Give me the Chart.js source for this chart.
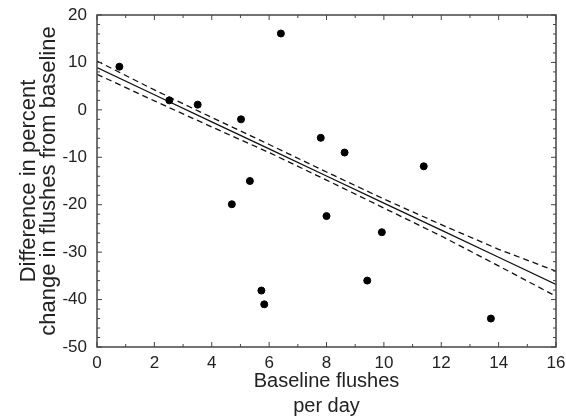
<!DOCTYPE html>
<html lang="en">
<head>
    <meta charset="UTF-8">
    <title>Baseline flushes</title>
    <script src="https://cdn.jsdelivr.net/npm/chart.js"></script>
    <style>
        html, body { margin: 0; padding: 0; background: #fff; }
        .caixa { width: 566px; height: 418px; }
    </style>
</head>
<body>
<div class="caixa">
    <canvas id="grafico"></canvas>
</div>
<script>
// pontos
const baseline = [0.78, 2.52, 3.51, 5.02, 6.41, 7.80, 5.33, 8.63, 11.39, 4.70, 8.00, 5.73, 5.83, 9.93, 9.42, 13.73];
const diferenca = [9.1, 2.0, 1.1, -2.0, 16.1, -5.9, -15.0, -9.0, -11.9, -19.9, -22.4, -38.1, -41.0, -25.8, -36.0, -44.0];

// reta de regressao e intervalo de confianca
const linhaX = [0, 2, 4, 6, 8, 10, 12, 14, 16];
const linhaMedia = [8.9, 3.19, -2.52, -8.24, -13.95, -19.66, -25.37, -31.08, -36.8];
const linhaSup = [10.3, 4.2, -1.6, -7.3, -13.1, -18.8, -24.2, -29.4, -34.0];
const linhaInf = [7.5, 1.9, -3.6, -9.0, -14.8, -20.7, -26.6, -32.9, -39.3];

const pontos = baseline.map((x, i) => ({ x: x, y: diferenca[i] }));
const media = linhaX.map((x, i) => ({ x: x, y: linhaMedia[i] }));
const sup = linhaX.map((x, i) => ({ x: x, y: linhaSup[i] }));
const inf = linhaX.map((x, i) => ({ x: x, y: linhaInf[i] }));

const fonte = 'Liberation Sans, Arial, Helvetica, sans-serif';
const cor = '#222';

// moldura e ticks para dentro, nos quatro lados
const moldura = {
    id: 'moldura',
    afterDraw(chart) {
        const ctx = chart.ctx;
        const a = chart.chartArea;
        const sx = chart.scales.x, sy = chart.scales.y;
        ctx.save();
        ctx.strokeStyle = '#444';
        ctx.lineWidth = 1.5;
        ctx.strokeRect(a.left, a.top, a.right - a.left, a.bottom - a.top);
        ctx.lineWidth = 1;
        for (let v = 0; v <= 16; v += 1) {
            const px = sx.getPixelForValue(v);
            const len = v % 2 === 0 ? 5 : 3;
            ctx.beginPath();
            ctx.moveTo(px, a.bottom); ctx.lineTo(px, a.bottom - len);
            ctx.moveTo(px, a.top); ctx.lineTo(px, a.top + len);
            ctx.stroke();
        }
        for (let v = -50; v <= 20; v += 2) {
            const py = sy.getPixelForValue(v);
            const len = v % 10 === 0 ? 5 : 3;
            ctx.beginPath();
            ctx.moveTo(a.left, py); ctx.lineTo(a.left + len, py);
            ctx.moveTo(a.right, py); ctx.lineTo(a.right - len, py);
            ctx.stroke();
        }
        ctx.restore();
    }
};

const config = {
    type: 'scatter',
    data: {
        datasets: [
            {
                label: 'Pacientes',
                data: pontos,
                backgroundColor: '#000',
                borderColor: '#000',
                pointRadius: 3.5
            },
            {
                label: 'Regressao',
                type: 'line',
                data: media,
                borderColor: '#111',
                borderWidth: 1.3,
                pointRadius: 0,
                fill: false
            },
            {
                label: 'IC superior',
                type: 'line',
                data: sup,
                borderColor: '#111',
                borderWidth: 1.3,
                borderDash: [6, 4],
                pointRadius: 0,
                fill: false
            },
            {
                label: 'IC inferior',
                type: 'line',
                data: inf,
                borderColor: '#111',
                borderWidth: 1.3,
                borderDash: [6, 4],
                pointRadius: 0,
                fill: false
            }
        ]
    },
    options: {
        responsive: true,
        maintainAspectRatio: false,
        animation: false,
        layout: { padding: { top: 15, right: 10, left: 0, bottom: 0 } },
        plugins: {
            legend: { display: false },
            tooltip: { enabled: false }
        },
        scales: {
            x: {
                type: 'linear',
                min: 0,
                max: 16,
                afterFit: function (scale) {
                    scale.height = 71;
                    scale.paddingLeft = 0;
                    scale.paddingRight = 0;
                },
                grid: { display: false, drawTicks: false },
                border: { display: false },
                ticks: {
                    stepSize: 2,
                    padding: 6,
                    color: cor,
                    font: { family: fonte, size: 17 }
                },
                title: {
                    display: true,
                    text: ['Baseline flushes', 'per day'],
                    color: cor,
                    font: { family: fonte, size: 20, lineHeight: 1.25 },
                    padding: { top: 0, bottom: -1 }
                }
            },
            y: {
                type: 'linear',
                min: -50,
                max: 20,
                afterFit: function (scale) {
                    scale.width = 97;
                    scale.paddingTop = 0;
                    scale.paddingBottom = 0;
                },
                grid: { display: false, drawTicks: false },
                border: { display: false },
                ticks: {
                    stepSize: 10,
                    padding: 10,
                    color: cor,
                    font: { family: fonte, size: 17 }
                },
                title: {
                    display: true,
                    text: ['Difference in percent', 'change in flushes from baseline'],
                    color: cor,
                    font: { family: fonte, size: 22, lineHeight: 0.9 },
                    padding: { top: 19, bottom: 0 }
                }
            }
        }
    },
    plugins: [moldura]
};

let grafico = new Chart(document.getElementById('grafico'), config);
</script>
</body>
</html>
